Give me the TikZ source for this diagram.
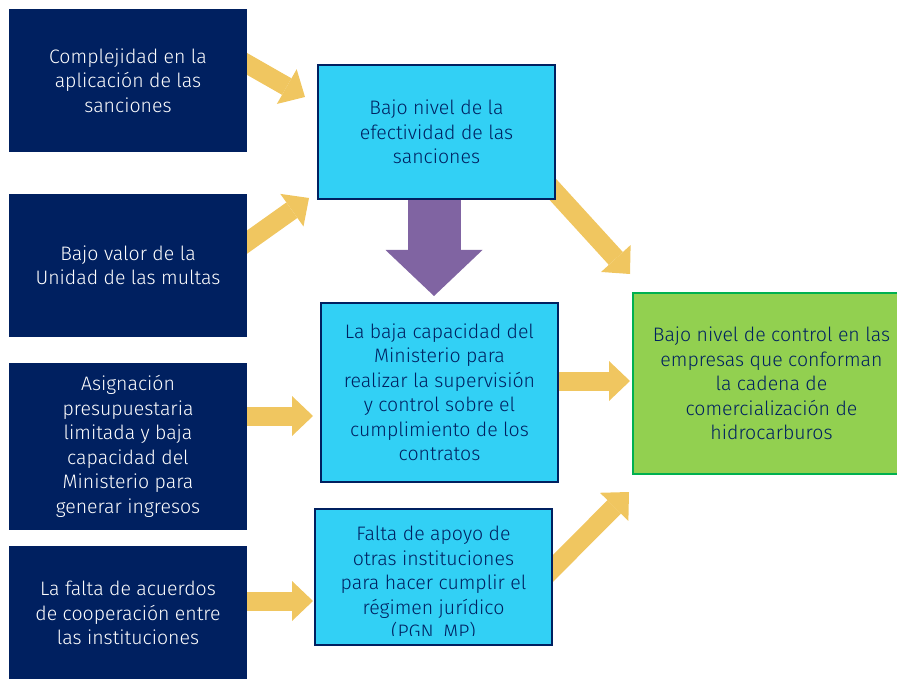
\documentclass[tikz,border=0pt]{standalone}
\usepackage{fontspec}
\setmainfont{Fira Sans Light}
\usepackage{tikz}
\usetikzlibrary{
	arrows.meta,									% 箭头样式
	backgrounds,									% 背景图层
}
\definecolor{azulOscuro}{RGB}{0,32,96}
\definecolor{celeste}{RGB}{50,208,245}
\definecolor{verdeClaro}{RGB}{146,208,80}
\definecolor{verdeBorde}{RGB}{0,176,80}
\definecolor{amarillo}{RGB}{240,198,96}
\definecolor{morado}{RGB}{128,100,162}

\begin{document}
\begin{tikzpicture}[x=1pt, y=1pt,
	texto/.style={inner sep=0pt, align=center, font=\fontsize{19.5}{24.5}\selectfont},
	causa/.style={texto, fill=azulOscuro, text=white, minimum width=238pt},
	efecto/.style={texto, draw=azulOscuro, line width=2pt, fill=celeste, text=azulOscuro, minimum width=237pt},
	final/.style={texto, draw=verdeBorde, line width=2pt, fill=verdeClaro, text=azulOscuro},
	flecha/.style={draw=amarillo, line width=19pt, arrows={-Triangle[length=21pt, width=40pt, line width=0pt]}},
	flechaGrande/.style={draw=morado, line width=53pt, arrows={-Triangle[length=46pt, width=97pt, line width=0pt]}},
	]
	\useasboundingbox (0,0) rectangle (897,-679);
	\node[causa, minimum height=143pt] (compl) at (128,-80.5) {Complejidad en la\\aplicación de las\\sanciones};
	\node[causa, minimum height=143pt] (valor) at (128,-265.5) {Bajo valor de la\\Unidad de las multas};
	\node[causa, minimum height=167pt] (asign) at (128,-446.5) {Asignación\\presupuestaria\\limitada y baja\\capacidad del\\Ministerio para\\generar ingresos};
	\node[causa, minimum height=134pt] (acuer) at (128,-613) {La falta de acuerdos\\de cooperación entre\\las instituciones};
	\node[efecto, minimum height=134pt] (efect) at (436.5,-132) {Bajo nivel de la\\efectividad de las\\sanciones};
	\node[efecto, minimum height=179pt] (capac) at (439.5,-392.5) {La baja capacidad del\\Ministerio para\\realizar la supervisión\\y control sobre el\\cumplimiento de los\\contratos};
	\node[efecto, minimum height=136pt] (apoyo) at (433.5,-577) {};
	\begin{scope}
		\clip (apoyo.north west) rectangle ([yshift=11pt]apoyo.south east);
		\node[texto, text=azulOscuro] (apoyoTxt) at (433.5,-584) {Falta de apoyo de\\otras instituciones\\para hacer cumplir el\\régimen jurídico\\(PGN, MP)};
	\end{scope}
	\node[final, minimum width=277pt, minimum height=181pt] (control) at (771.5,-383.5) {Bajo nivel de control en las\\empresas que conforman\\la cadena de\\comercialización de\\hidrocarburos};
	\coordinate (p1) at (305,-97);
	\coordinate (p2) at (309,-198);
	\coordinate (p3) at (313,-416);
	\coordinate (p4) at (313,-601);
	\coordinate (p5) at (630,-274);
	\coordinate (p6) at (630,-381);
	\coordinate (p7) at (629,-492);
	\coordinate (pm) at (434,-296);
	\begin{scope}[on background layer]
		\draw[flecha] ([shift={(-20,27.9)}]compl.east) -- (p1);
		\draw[flecha] ([shift={(-20,9.3)}]valor.east) -- (p2);
		\draw[flecha] ([shift={(-10,30.5)}]asign.east) -- (p3);
		\draw[flecha] ([shift={(-10,12)}]acuer.east) -- (p4);
		\draw[flecha] ([shift={(-20,29)}]efect.south east) -- (p5);
		\draw[flecha] ([shift={(-10,11.5)}]capac.east) -- (p6);
		\draw[flecha] ([shift={(-20,-11.5)}]apoyo.east) -- (p7);
		\draw[flechaGrande] ([shift={(-2.5,10)}]efect.south) -- (pm);
	\end{scope}
\end{tikzpicture}
\end{document}
